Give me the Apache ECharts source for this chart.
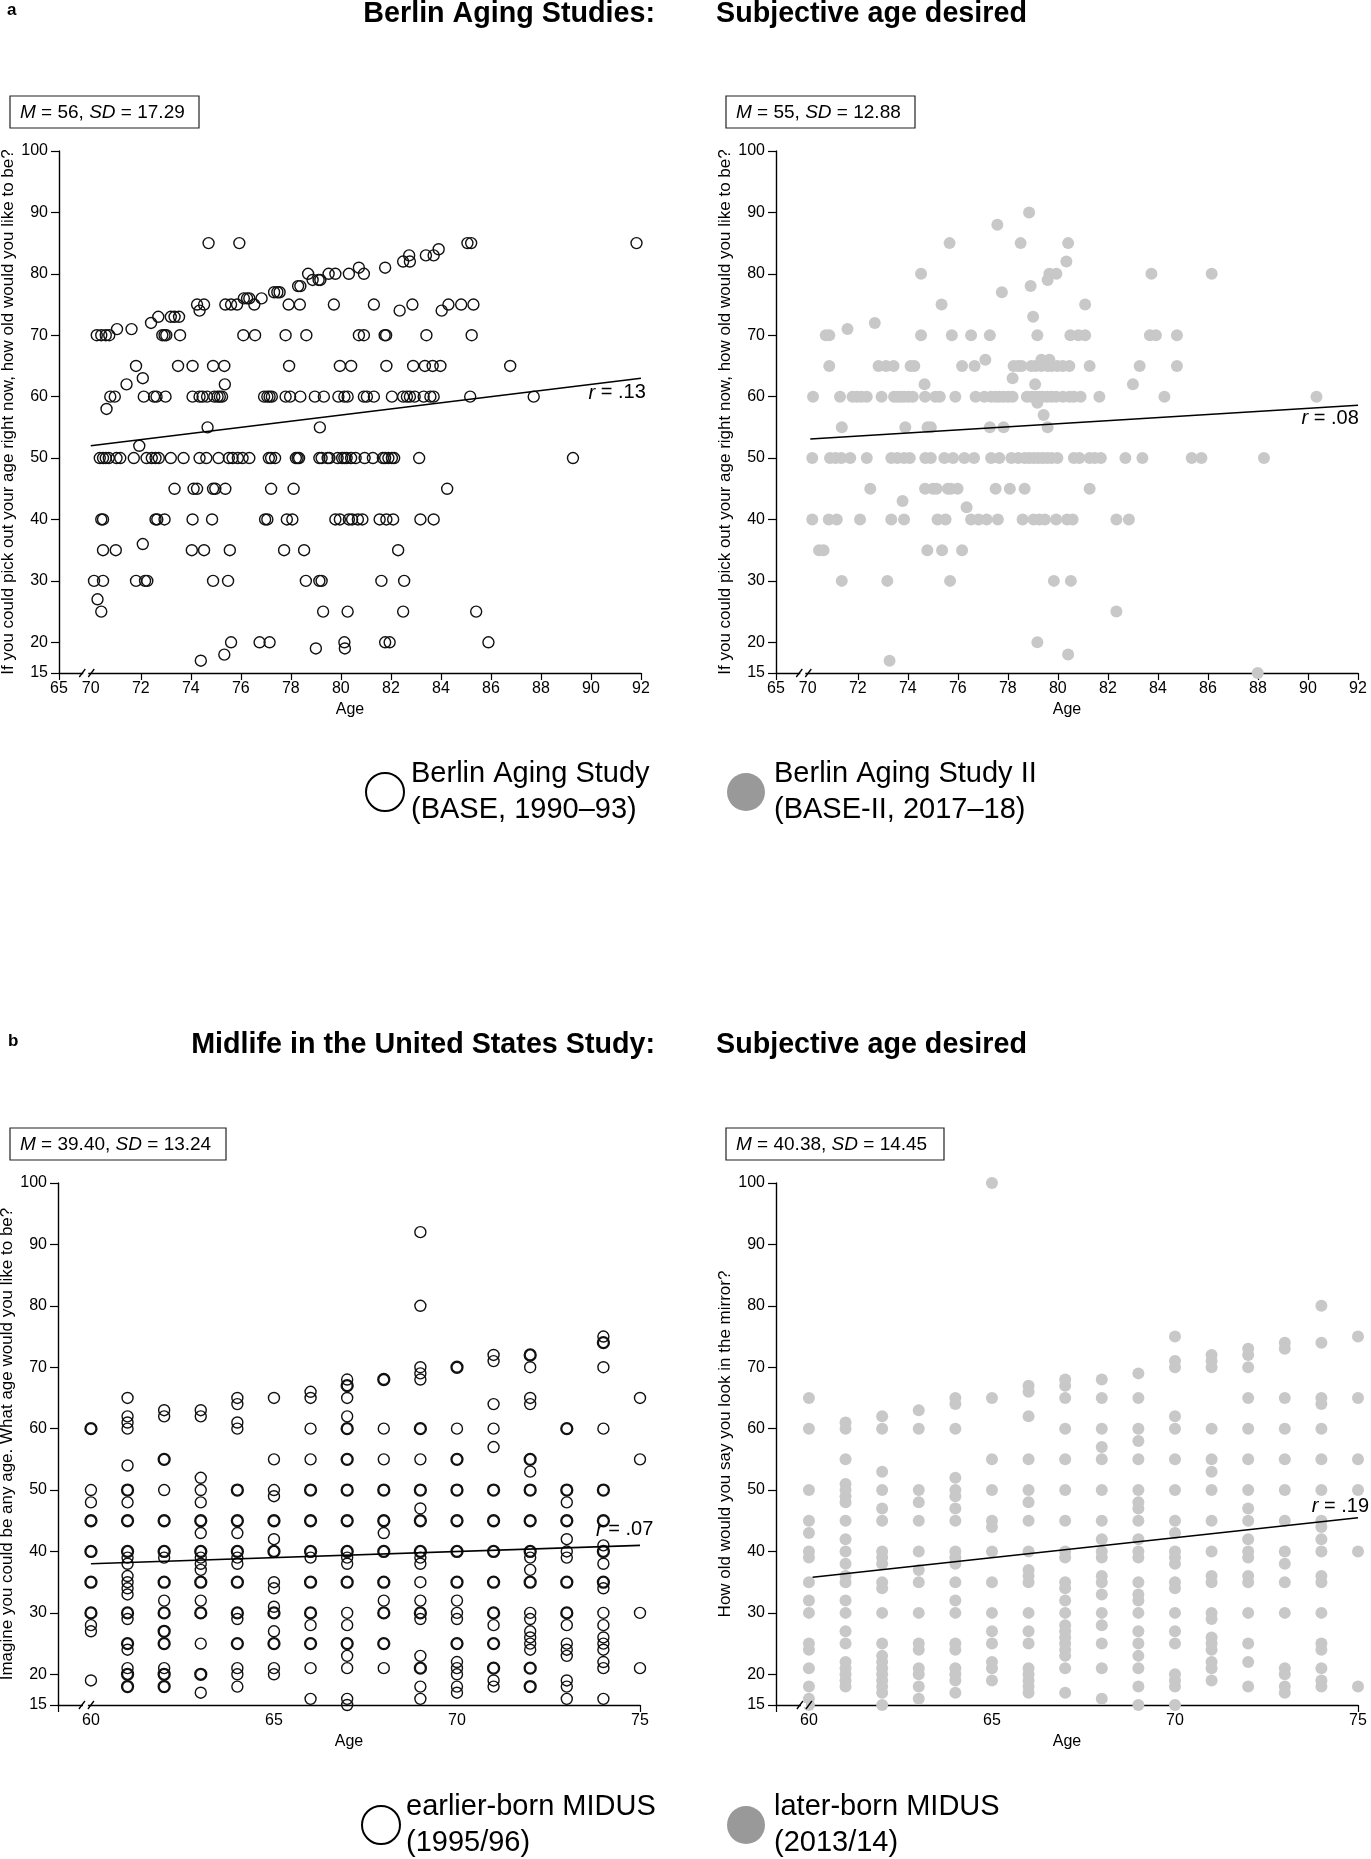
<!DOCTYPE html>
<html><head><meta charset="utf-8">
<script src="https://cdn.jsdelivr.net/npm/echarts@6/dist/echarts.min.js"></script>
<style>html,body{margin:0;padding:0;background:#fff}#c{width:1371px;height:1859px}</style>
</head><body><div id="c"></div>
<script>
const FONT = "'Liberation Sans', Arial, Helvetica, sans-serif";

// ---------- axis ticks ----------
const yTicks = [15, 20, 30, 40, 50, 60, 70, 80, 90, 100];
const xTicksBerlin = [70, 72, 74, 76, 78, 80, 82, 84, 86, 88, 90, 92];
const xTicksMidus = [60, 65, 70, 75];
const berlinAxisStart = 68.73;   // drawn position of the "65" label (axis is broken)
const midusAxisStart = 59.1;

// ---------- Berlin Aging Study (BASE 1990-93): [desired age, [ages...]] ----------
const base1990Rows = [
 [85,[74.71,75.94,85.06,85.21,91.82]],
 [84,[83.91]],
 [83,[82.73,83.40,83.71]],
 [82,[82.49,82.76]],
 [81,[80.72,81.77]],
 [80,[78.69,79.51,79.78,80.32,80.92]],
 [79,[78.87,79.11,79.18]],
 [78,[78.29,78.38]],
 [77,[77.33,77.46,77.55]],
 [76,[76.12,76.25,76.34,76.83]],
 [75,[74.25,74.53,75.38,75.61,75.85,76.54,77.91,78.36,79.72,81.32,82.86,84.30,84.81,85.30]],
 [74,[74.35,82.35,84.03]],
 [73,[72.70,73.20,73.35,73.53]],
 [72,[72.41]],
 [71,[71.05,71.63]],
 [70,[70.24,70.42,70.60,70.74,72.86,72.95,73.02,73.57,76.10,76.57,77.79,78.62,80.72,80.92,81.75,81.81,83.42,85.23]],
 [65,[71.81,73.49,74.07,74.89,75.34,77.93,79.96,80.41,81.82,82.89,83.36,83.67,83.98,86.77]],
 [63,[72.08]],
 [62,[71.43,75.36]],
 [60,[70.78,70.96,72.12,72.53,72.63,72.99,74.07,74.35,74.47,74.65,74.94,75.07,75.16,75.25,76.93,77.06,77.15,77.24,77.79,77.97,78.38,78.96,79.32,79.90,80.14,80.27,80.92,81.04,81.32,82.04,82.49,82.64,82.76,82.95,83.31,83.58,83.71,85.17,87.71]],
 [58,[70.63]],
 [55,[74.67,79.16]],
 [52,[71.94]],
 [50,[70.36,70.49,70.60,70.72,71.03,71.18,71.72,72.23,72.44,72.59,72.72,73.20,73.71,74.35,74.62,75.11,75.52,75.67,75.88,76.07,76.34,77.12,77.21,77.37,78.20,78.27,78.33,79.14,79.23,79.47,79.54,79.87,80.05,80.14,80.23,80.41,80.59,80.95,81.28,81.68,81.77,81.90,82.04,82.13,83.13,89.28]],
 [45,[73.35,74.11,74.25,74.89,74.98,75.38,77.21,78.11,84.25]],
 [40,[70.42,70.49,72.59,72.66,72.95,74.07,74.85,76.97,77.06,77.84,78.06,79.78,79.96,80.32,80.45,80.68,80.86,81.55,81.82,82.09,83.18,83.71]],
 [36,[72.08]],
 [35,[70.49,71.00,74.04,74.53,75.56,77.73,78.53,82.29]],
 [30,[70.13,70.49,71.81,72.17,72.26,74.89,75.49,78.60,79.14,79.23,81.62,82.53]],
 [27,[70.27]],
 [25,[70.42,79.29,80.27,82.49,85.41]],
 [20,[75.61,76.75,77.15,80.14,81.77,81.95,85.90]],
 [19,[79.00,80.16]],
 [18,[75.34]],
 [17,[74.40]]
];

// ---------- Berlin Aging Study II (BASE-II 2017-18) ----------
const base2017Rows = [
 [90,[78.85]],
 [88,[77.58]],
 [85,[75.67,78.51,80.41]],
 [82,[80.34]],
 [80,[74.53,79.66,79.94,83.74,86.15]],
 [79,[79.59]],
 [78,[78.91]],
 [77,[77.76]],
 [75,[75.35,81.09]],
 [73,[79.01]],
 [72,[72.68]],
 [71,[71.59]],
 [70,[70.72,70.86,74.53,75.76,76.53,77.28,79.18,80.50,80.82,81.09,83.68,83.92,84.76]],
 [66,[77.10,79.34,79.66]],
 [65,[70.86,72.83,73.13,73.43,74.11,74.26,76.17,76.67,78.23,78.41,78.55,78.94,79.12,79.34,79.59,79.75,79.98,80.20,80.46,81.27,83.27,84.76]],
 [63,[78.19]],
 [62,[74.67,79.09,83.00]],
 [60,[70.21,71.29,71.79,71.97,72.15,72.36,72.95,73.45,73.58,73.72,73.85,74.02,74.20,74.69,75.10,75.28,75.90,76.71,77.06,77.33,77.51,77.66,77.83,78.01,78.19,78.76,78.94,79.12,79.26,79.39,79.57,79.75,79.93,80.20,80.46,80.64,80.91,81.66,84.26,90.34]],
 [59,[79.18]],
 [57,[79.43]],
 [55,[71.36,73.90,74.79,74.92,77.28,77.83,79.59]],
 [50,[70.18,70.89,71.11,71.34,71.70,72.36,73.34,73.58,73.85,74.08,74.70,74.92,75.46,75.81,76.26,76.65,77.33,77.66,78.14,78.41,78.67,78.85,79.03,79.21,79.39,79.57,79.75,79.98,80.64,80.86,81.27,81.48,81.72,82.70,83.38,85.35,85.74,88.24]],
 [45,[72.50,74.69,75.01,75.15,75.60,75.72,75.99,77.51,78.08,78.67,81.27]],
 [43,[73.79]],
 [42,[76.35]],
 [40,[70.18,70.84,71.16,72.09,73.34,73.85,75.19,75.51,76.53,76.83,77.15,77.60,78.59,79.03,79.26,79.48,79.93,80.37,80.59,82.34,82.84]],
 [35,[70.45,70.63,74.78,75.37,76.17]],
 [30,[71.36,73.18,75.69,79.84,80.52]],
 [25,[82.34]],
 [20,[79.18]],
 [18,[80.41]],
 [17,[73.27]],
 [15,[87.99]]
];

// ---------- earlier-born MIDUS (1995/96): [age, [desired ages...]] (repeats = overlapping points) ----------
const midus1995Cols = [
 [60,[60,60,50,48,45,45,40,40,35,35,30,30,28,27,19]],
 [61,[65,62,61,60,54,50,50,48,45,45,40,40,39,38,36,35,34,33,30,30,29,25,25,24,21,20,20,18,18]],
 [62,[63,62,55,55,50,45,45,40,40,39,35,35,32,30,30,27,27,25,25,21,20,20,18,18]],
 [63,[63,62,52,50,48,45,45,43,40,40,39,38,37,35,35,32,30,30,25,20,20,17]],
 [64,[65,64,61,60,50,50,45,45,43,40,40,39,38,35,35,30,30,29,25,25,21,20,18]],
 [65,[65,55,50,49,45,45,42,40,40,35,34,31,30,30,27,25,25,21,20]],
 [66,[66,65,60,55,50,50,45,45,40,40,39,35,35,30,30,28,25,25,21,16]],
 [67,[68,67,67,65,62,60,60,55,55,50,50,45,45,40,40,39,38,35,35,30,28,25,25,23,21,16,15]],
 [68,[68,68,60,55,50,50,45,45,43,40,40,35,35,32,30,30,25,25,21]],
 [69,[92,80,70,69,68,60,60,55,50,50,47,45,45,40,40,39,38,35,32,30,30,29,23,21,21,18,16]],
 [70,[70,70,60,55,55,50,50,45,45,40,40,35,35,32,30,29,25,25,22,21,20,18,17]],
 [71,[72,71,64,60,57,50,50,45,45,40,40,35,35,30,30,28,25,25,21,21,19,18]],
 [72,[72,72,70,65,64,55,55,53,50,50,45,45,40,40,39,37,35,35,30,29,27,26,25,24,21,21,18,18]],
 [73,[60,60,50,50,48,45,45,42,40,39,35,35,30,30,28,25,24,23,19,18,16]],
 [74,[75,74,74,70,60,50,50,45,45,41,40,40,38,35,35,34,30,28,26,25,24,22,21,16]],
 [75,[65,55,30,21]]
];

// ---------- later-born MIDUS (2013/14) ----------
const midus2013Cols = [
 [60,[65,60,50,45,43,40,39,35,32,30,25,24,21,18,16,15]],
 [61,[61,60,55,51,50,49,48,45,42,40,38,36,35,32,30,27,25,22,21,20,19,18]],
 [62,[62,60,53,50,47,45,40,39,38,35,34,30,25,23,22,21,20,19,18,17,15]],
 [63,[63,60,50,48,45,40,37,35,30,25,24,21,20,18,16]],
 [64,[65,64,60,52,50,49,47,45,40,39,38,35,32,30,25,24,21,20,19,17]],
 [65,[100,65,55,50,45,44,40,35,30,27,25,22,21,19]],
 [66,[67,66,62,55,50,48,45,40,37,36,35,30,27,25,21,20,19,18,17]],
 [67,[68,67,65,60,55,50,45,40,39,35,34,32,30,28,27,26,25,24,23,21,17]],
 [68,[68,65,60,57,55,50,45,42,40,39,36,35,33,30,28,25,21,16]],
 [69,[69,65,60,58,55,50,48,47,45,42,40,39,35,33,32,30,27,25,23,21,18,15]],
 [70,[75,71,70,62,60,55,50,45,43,40,39,38,35,34,30,27,25,20,19,18,15]],
 [71,[72,71,70,60,55,53,50,45,40,36,35,30,29,26,25,24,22,21,19]],
 [72,[73,72,70,65,60,55,50,47,45,42,40,39,36,35,30,25,22,18]],
 [73,[74,73,65,60,55,50,45,40,38,35,30,21,20,18,17]],
 [74,[80,74,65,64,60,55,50,45,44,42,40,36,35,30,25,24,21,19,18]],
 [75,[75,65,55,50,40,18]]
];

// ---------- regression lines (end points) ----------
const base1990Fit = [[70, 52], [92, 63]];
const base2017Fit = [[70.1, 53.1], [92, 58.6]];
const midus1995Fit = [[60, 38], [75, 41]];
const midus2013Fit = [[60.1, 35.8], [75, 45.5]];
const fitLabels = ['.13', '.08', '.07', '.19'];
const fitLabelAt = [[92.2, 60.6], [92.04, 56.5], [75.37, 43.5], [75.31, 47.3]];
const breakAt = [[69.86, 15], [69.86, 15], [59.89, 15], [59.89, 15]];

const statsText = [['56', '17.29'], ['55', '12.88'], ['39.40', '13.24'], ['40.38', '14.45']];

// ---------- build point lists ----------
function rowsToPoints(rows) {
  const out = [];
  rows.forEach(([v, ages]) => ages.forEach(a => out.push([a, v])));
  return out;
}
function colsToPoints(cols, bold) {
  const out = [];
  cols.forEach(([age, vals]) => {
    const counts = {};
    vals.forEach(v => { counts[v] = (counts[v] || 0) + 1; });
    Object.keys(counts).forEach(k => {
      const item = { value: [age, Number(k)] };
      if (bold && counts[k] > 1) item.itemStyle = { borderWidth: 2.3 };
      out.push(item);
    });
  });
  return out;
}

const panels = [
  { left: 59, top: 151, min: berlinAxisStart, max: 92, ticks: xTicksBerlin, start: '65',
    tickVals: [berlinAxisStart].concat(xTicksBerlin.slice(1)),
    yName: 'If you could pick out your age right now, how old would you like to be?',
    pts: rowsToPoints(base1990Rows), open: true, fit: base1990Fit },
  { left: 776, top: 151, min: berlinAxisStart, max: 92, ticks: xTicksBerlin, start: '65',
    tickVals: [berlinAxisStart].concat(xTicksBerlin.slice(1)),
    yName: 'If you could pick out your age right now, how old would you like to be?',
    pts: rowsToPoints(base2017Rows), open: false, fit: base2017Fit },
  { left: 58, top: 1183, min: midusAxisStart, max: 75, ticks: xTicksMidus, start: null,
    tickVals: [midusAxisStart, 75],
    yName: 'Imagine you could be any age. What age would you like to be?',
    pts: colsToPoints(midus1995Cols, true), open: true, fit: midus1995Fit },
  { left: 776, top: 1183, min: midusAxisStart, max: 75, ticks: xTicksMidus, start: null,
    tickVals: [midusAxisStart, 75],
    yName: 'How old would you say you look in the mirror?',
    pts: colsToPoints(midus2013Cols, false), open: false, fit: midus2013Fit }
];

const grid = [], xAxis = [], yAxis = [], series = [];
panels.forEach((p, i) => {
  grid.push({ left: p.left, top: p.top, width: 582, height: 522, outerBoundsMode: 'none' });
  const labelVals = p.start ? [p.min].concat(p.ticks) : p.ticks;
  xAxis.push({
    type: 'value', gridIndex: i, min: p.min, max: p.max,
    axisLine: { show: true, onZero: false, lineStyle: { color: '#000', width: 1.4 } },
    axisTick: { show: true, customValues: p.tickVals, length: 7, lineStyle: { color: '#000', width: 1.2 } },
    axisLabel: { customValues: labelVals, margin: 8, fontSize: 16, color: '#000', fontFamily: FONT,
      formatter: v => (p.start && v < p.min + 0.5) ? p.start : String(Math.round(v)) },
    splitLine: { show: false },
    name: 'Age', nameLocation: 'middle', nameGap: 29,
    nameTextStyle: { fontSize: 16, color: '#000', fontFamily: FONT }
  });
  yAxis.push({
    type: 'value', gridIndex: i, min: 15, max: 100,
    axisLine: { show: true, onZero: false, lineStyle: { color: '#000', width: 1.4 } },
    axisTick: { show: true, customValues: yTicks, length: 8, lineStyle: { color: '#000', width: 1.2 } },
    axisLabel: { customValues: yTicks, margin: 11, fontSize: 16, color: '#000', fontFamily: FONT },
    splitLine: { show: false },
    name: p.yName, nameLocation: 'middle', nameGap: 42,
    nameTextStyle: { fontSize: 17, color: '#000', fontFamily: FONT }
  });
  series.push({
    type: 'scatter', xAxisIndex: i, yAxisIndex: i, data: p.pts, clip: false,
    symbol: 'circle', symbolSize: p.open ? 11 : 12, silent: true,
    itemStyle: p.open
      ? { color: 'rgba(0,0,0,0)', borderColor: '#111', borderWidth: 1.4, opacity: 1 }
      : { color: '#c8c8c8', opacity: 1 },
    z: 2
  });
  series.push({
    type: 'line', xAxisIndex: i, yAxisIndex: i, data: p.fit, symbol: 'none', silent: true,
    lineStyle: { color: '#000', width: 1.6 }, clip: false, z: 3
  });
  series.push({
    type: 'scatter', xAxisIndex: i, yAxisIndex: i, data: [fitLabelAt[i]], symbolSize: 0.5, silent: true,
    clip: false, itemStyle: { color: '#fff', opacity: 1 },
    label: { show: true, position: 'left', distance: 0, formatter: '{i|r} = ' + fitLabels[i],
      fontSize: 20, color: '#000', opacity: 1, fontFamily: FONT,
      rich: { i: { fontStyle: 'italic', fontSize: 20, fontFamily: FONT, color: '#000' } } },
    z: 4
  });
  series.push({
    type: 'custom', xAxisIndex: i, yAxisIndex: i, data: [breakAt[i]], silent: true, clip: false, z: 5,
    renderItem: (params, api) => {
      const c = api.coord([api.value(0), api.value(1)]);
      return { type: 'group', children: [
        { type: 'rect', shape: { x: c[0] - 4, y: c[1] - 2, width: 5, height: 4 }, style: { fill: '#fff' } },
        { type: 'line', shape: { x1: c[0] - 8, y1: c[1] + 4, x2: c[0] - 2, y2: c[1] - 4 }, style: { stroke: '#000', lineWidth: 1.3 } },
        { type: 'line', shape: { x1: c[0] + 1, y1: c[1] + 4, x2: c[0] + 7, y2: c[1] - 4 }, style: { stroke: '#000', lineWidth: 1.3 } }
      ] };
    }
  });
});

// ---------- static text: titles, stats boxes, legends ----------
const statsBoxes = [[10, 96, 189], [726, 96, 189], [10, 1128, 216], [726, 1128, 218]];
const graphic = [];
function txt(x, y, text, o) {
  graphic.push({ type: 'text', x, y, silent: true, style: Object.assign({ text, fill: '#000', fontFamily: FONT,
    fontSize: 28.7, fontWeight: 'bold', align: 'left', verticalAlign: 'middle' }, o || {}) });
}
txt(7, 10, 'a', { fontSize: 17 });
txt(655, 14, 'Berlin Aging Studies:', { align: 'right' });
txt(716, 14, 'Subjective age desired');
txt(8, 1041, 'b', { fontSize: 17 });
txt(655, 1045, 'Midlife in the United States Study:', { align: 'right' });
txt(716, 1045, 'Subjective age desired');

statsBoxes.forEach(([x, y, w], i) => {
  graphic.push({ type: 'rect', x, y, shape: { width: w, height: 32 }, silent: true,
    style: { fill: '#fff', stroke: '#222', lineWidth: 1.2 } });
  graphic.push({ type: 'text', x: x + 10, y: y + 16.5, silent: true,
    style: { text: '{i|M} = ' + statsText[i][0] + ', {i|SD} = ' + statsText[i][1], fill: '#000',
      fontFamily: FONT, fontSize: 19, verticalAlign: 'middle', align: 'left',
      rich: { i: { fontStyle: 'italic', fontFamily: FONT, fontSize: 19, fill: '#000' } } } });
});

const legends = [
  [385, 792, 411, true, 'Berlin Aging Study\n(BASE, 1990–93)'],
  [746, 792, 774, false, 'Berlin Aging Study II\n(BASE-II, 2017–18)'],
  [381, 1825, 406, true, 'earlier-born MIDUS\n(1995/96)'],
  [746, 1825, 774, false, 'later-born MIDUS\n(2013/14)']
];
legends.forEach(([cx, cy, tx, open, label]) => {
  graphic.push({ type: 'circle', silent: true, shape: { cx, cy, r: 19 },
    style: open ? { fill: '#fff', stroke: '#000', lineWidth: 2 } : { fill: '#999' } });
  graphic.push({ type: 'text', x: tx, y: cy, silent: true,
    style: { text: label, fill: '#000', fontFamily: FONT, fontSize: 29, lineHeight: 36,
      align: 'left', verticalAlign: 'middle' } });
});

const chart = echarts.init(document.getElementById('c'), null, { renderer: 'canvas' });
chart.setOption({ animation: false, backgroundColor: '#fff', grid, xAxis, yAxis, series, graphic });
</script></body></html>
